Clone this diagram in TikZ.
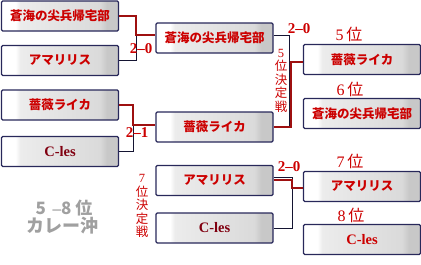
\documentclass[tikz,border=0pt]{standalone}
\usepackage{fontspec}
\setmainfont{Liberation Serif}
\newfontfamily\jp{Noto Sans CJK JP}
\definecolor{boxline}{RGB}{40,40,90}
\definecolor{boxg1}{RGB}{236,236,236}
\definecolor{boxg2}{RGB}{218,218,218}
\definecolor{boxg3}{RGB}{200,200,200}
\definecolor{txtred}{RGB}{204,0,0}
\definecolor{txtdark}{RGB}{128,0,16}
\definecolor{linered}{RGB}{158,16,16}
\definecolor{lineblk}{RGB}{20,20,50}
\definecolor{graytxt}{RGB}{160,160,160}
\pgfdeclarehorizontalshading{boxshade}{100bp}{color(0bp)=(white); color(25bp)=(white); color(31bp)=(white); color(33bp)=(boxg1); color(67bp)=(boxg2); color(70bp)=(boxg3); color(75bp)=(boxg3); color(100bp)=(boxg3)}
\begin{document}
\begin{tikzpicture}[x=1pt,y=-1pt,
  teambox/.style={draw=boxline,line width=1.2pt,rounded corners=1.2pt,shading=boxshade,
     minimum width=117pt,minimum height=30pt,inner sep=0pt,
     font=\jp\bfseries\fontsize{12.5}{13}\selectfont,text=txtred},
  latin/.style={font=\bfseries\fontsize{14.5}{15}\selectfont},
  redl/.style={draw=linered,line width=2pt},
  blkl/.style={draw=lineblk,line width=1pt},
  score/.style={font=\bfseries\fontsize{15}{15}\selectfont,text=txtred,inner sep=0pt},
  rank/.style={font=\fontsize{16}{16}\selectfont,text=txtred,inner sep=0pt},
  vtext/.style={align=center,font=\jp\fontsize{12.5}{13.5}\selectfont,text=txtred,inner sep=0pt},
  gtext/.style={font=\jp\bfseries\fontsize{17}{18}\selectfont,text=graytxt,inner sep=0pt}]
\useasboundingbox (0,0) rectangle (421,265);
% column 1
\node[teambox] (a1) at (60,16) {蒼海の尖兵帰宅部};
\node[teambox] (a2) at (60,60.5) {アマリリス};
\node[teambox] (a3) at (60,105) {薔薇ライカ};
\node[teambox,latin,text=txtdark] (a4) at (60,151.5) {C-les};
% column 2
\node[teambox] (b1) at (214.5,38) {蒼海の尖兵帰宅部};
\node[teambox] (b2) at (214.5,127) {薔薇ライカ};
\node[teambox] (b3) at (214.5,180.5) {アマリリス};
\node[teambox,latin,text=txtdark] (b4) at (214.5,228) {C-les};
% column 3
\node[teambox] (c1) at (362,59.5) {薔薇ライカ};
\node[teambox] (c2) at (362,113.5) {蒼海の尖兵帰宅部};
\node[teambox] (c3) at (362,186.5) {アマリリス};
\node[teambox,latin] (c4) at (362,239.5) {C-les};
% rank labels
\node[rank] (r5) at (349,34) {5\,{\jp 位}};
\node[rank] (r6) at (350,89) {6\,{\jp 位}};
\node[rank] (r7) at (350,161) {7\,{\jp 位}};
\node[rank] (r8) at (351,215) {8\,{\jp 位}};
% junction coordinates
\coordinate (j1) at (136,35);
\coordinate (j2) at (133,125);
\coordinate (j3) at (289,127);
\coordinate (k3) at (291,62);
\coordinate (j4) at (292,228);
\coordinate (k4) at (292,188);
% connectors (black under red)
\draw[blkl] (a2.east) -| (j1);
\draw[redl] (a1.east) -| (j1) -- (j1 -| b1.west);
\draw[blkl] (a4.east) -| (j2);
\draw[redl] (a3.east) -| (j2) -- (j2 -| b2.west);
\draw[blkl] ([yshift=3pt]b1.east) -| (j3);
\draw[redl] (b2.east) -| (k3) -- (k3 -| c1.west);
\draw[blkl] ([yshift=3pt]b3.east) -| (j4) -- (b4.east);
\draw[redl] ([yshift=1pt]b3.east) -| (k4) -- (k4 -| c3.west);
% scores
\node[score] (s1) at (141,49) {2\textendash0};
\node[score] (s2) at (137,133) {2\textendash1};
\node[score] (s3) at (299,29) {2\textendash0};
\node[score] (s4) at (289,167) {2\textendash0};
% vertical labels
\node[vtext] (v5) at (281,80.5) {{\rmfamily 5}\\位\\決\\定\\戦};
\node[vtext] (v7) at (142,206) {{\rmfamily 7}\\位\\決\\定\\戦};
% title
\node[gtext] (t1) at (64,208) {5 \,{\rmfamily\bfseries\textendash}8 位};
\node[gtext,font=\jp\bfseries\fontsize{18}{18}\selectfont] (t2) at (63,226) {カレー沖};
\end{tikzpicture}
\end{document}
